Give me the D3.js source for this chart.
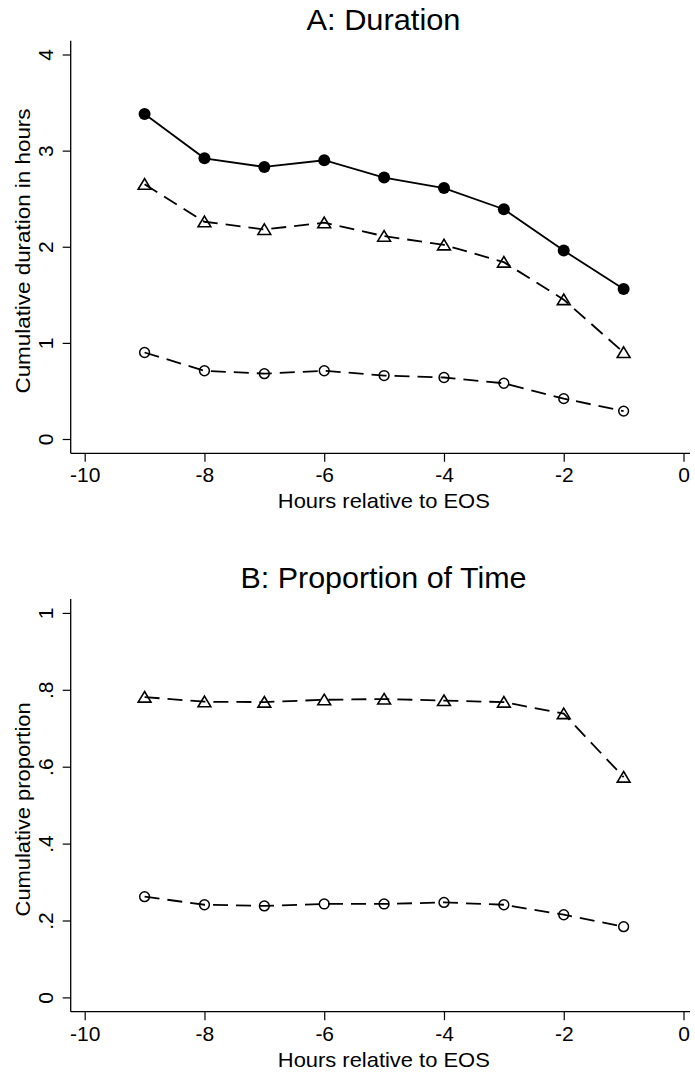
<!DOCTYPE html>
<html>
<head>
<meta charset="utf-8">
<script src="https://cdn.jsdelivr.net/npm/d3@7"></script>
<style>
  html, body { margin: 0; padding: 0; background: #fff; }
  svg { display: block; }
  text { font-family: "Liberation Sans", Arial, Helvetica, sans-serif; fill: #000; }
</style>
</head>
<body>
<svg id="chart" width="695" height="1074"></svg>
<script>
// ---------- data ----------
const hours = [-9, -8, -7, -6, -5, -4, -3, -2, -1];

const durationFilled   = [3.38, 2.92, 2.83, 2.90, 2.72, 2.61, 2.39, 1.96, 1.56];
const durationTriangle = [2.65, 2.26, 2.18, 2.25, 2.11, 2.02, 1.84, 1.45, 0.90];
const durationCircle   = [0.90, 0.71, 0.68, 0.71, 0.66, 0.64, 0.58, 0.42, 0.29];

const proportionTriangle = [0.781, 0.769, 0.768, 0.774, 0.776, 0.772, 0.768, 0.738, 0.573];
const proportionCircle   = [0.262, 0.241, 0.238, 0.243, 0.243, 0.247, 0.241, 0.215, 0.184];

const xTicks = [-10, -8, -6, -4, -2, 0];
const xTickLabels = ["-10", "-8", "-6", "-4", "-2", "0"];
const yTicksA = [0, 1, 2, 3, 4];
const yTickLabelsA = ["0", "1", "2", "3", "4"];
const yTicksB = [0, 0.2, 0.4, 0.6, 0.8, 1];
const yTickLabelsB = ["0", ".2", ".4", ".6", ".8", "1"];

const titles = ["A: Duration", "B: Proportion of Time"];
const yTitles = ["Cumulative duration in hours", "Cumulative proportion"];
const xTitle = "Hours relative to EOS";

// ---------- layout ----------
const svg = d3.select("#chart");
const axisX0 = 70.7, axisX1 = 690, axisYTop = 40.7, axisYBottom = 453.3;
const x = d3.scaleLinear().domain([-10, 0]).range([84.7, 683.5]);
const dashPattern = "15,8";

const panels = [
  { offset: 0, title: titles[0], yTitle: yTitles[0], yTitleLen: 285,
    y: d3.scaleLinear().domain([0, 4]).range([439, 54.5]),
    ticks: yTicksA, tickLabels: yTickLabelsA,
    series: [
      { values: durationFilled, dash: null, marker: "filled" },
      { values: durationTriangle, dash: dashPattern, marker: "triangle" },
      { values: durationCircle, dash: dashPattern, marker: "circle" }
    ] },
  { offset: 558.4, title: titles[1], yTitle: yTitles[1], yTitleLen: 214,
    y: d3.scaleLinear().domain([0, 1]).range([439, 54.5]),
    ticks: yTicksB, tickLabels: yTickLabelsB,
    series: [
      { values: proportionTriangle, dash: dashPattern, marker: "triangle" },
      { values: proportionCircle, dash: dashPattern, marker: "circle" }
    ] }
];

panels.forEach(p => {
  const g = svg.append("g").attr("transform", `translate(0,${p.offset})`);
  const y = p.y;

  // title
  g.append("text").attr("x", 383.5).attr("y", 30)
    .attr("text-anchor", "middle").attr("font-size", 30)
    .attr("textLength", p.offset === 0 ? 154 : 286).attr("lengthAdjust", "spacingAndGlyphs")
    .text(p.title);

  // y axis
  const yAxis = d3.axisLeft(y).tickValues(p.ticks)
    .tickFormat((d, i) => p.tickLabels[i]).tickSize(8).tickSizeOuter(0);
  const ya = g.append("g").attr("transform", `translate(${axisX0},0)`).call(yAxis);
  ya.select(".domain").remove();
  ya.selectAll(".tick line").attr("stroke", "#000").attr("stroke-width", 1.2);
  ya.selectAll(".tick text")
    .attr("x", null).attr("dy", null)
    .attr("transform", "translate(-17.4,0) rotate(-90)")
    .attr("text-anchor", "middle")
    .attr("font-size", 21).attr("font-family", null);
  g.append("line").attr("x1", axisX0).attr("x2", axisX0)
    .attr("y1", axisYTop).attr("y2", axisYBottom)
    .attr("stroke", "#000").attr("stroke-width", 1.3);

  // x axis
  const xAxis = d3.axisBottom(x).tickValues(xTicks)
    .tickFormat((d, i) => xTickLabels[i]).tickSize(8.5).tickSizeOuter(0);
  const xa = g.append("g").attr("transform", `translate(0,${axisYBottom})`).call(xAxis);
  xa.select(".domain").remove();
  xa.selectAll(".tick line").attr("stroke", "#000").attr("stroke-width", 1.2);
  xa.selectAll(".tick text")
    .attr("y", 29).attr("dy", null)
    .attr("font-size", 21).attr("font-family", null);
  g.append("line").attr("x1", axisX0).attr("x2", axisX1)
    .attr("y1", axisYBottom).attr("y2", axisYBottom)
    .attr("stroke", "#000").attr("stroke-width", 1.3);

  // axis titles
  g.append("text").attr("x", 383.8).attr("y", 508.3)
    .attr("text-anchor", "middle").attr("font-size", 21)
    .attr("textLength", 212).attr("lengthAdjust", "spacingAndGlyphs")
    .text(xTitle);
  g.append("text")
    .attr("transform", `translate(30,251) rotate(-90)`)
    .attr("text-anchor", "middle").attr("font-size", 21)
    .attr("textLength", p.yTitleLen).attr("lengthAdjust", "spacingAndGlyphs")
    .text(p.yTitle);

  // series
  p.series.forEach(s => {
    const pts = hours.map((h, i) => [h, s.values[i]]);
    const line = d3.line().x(d => x(d[0])).y(d => y(d[1]));
    g.append("path").datum(pts).attr("d", line)
      .attr("fill", "none").attr("stroke", "#000").attr("stroke-width", 1.8)
      .attr("stroke-dasharray", s.dash);
    if (s.marker === "filled") {
      g.selectAll(null).data(pts).enter().append("circle")
        .attr("cx", d => x(d[0])).attr("cy", d => y(d[1])).attr("r", 6)
        .attr("fill", "#000");
    } else if (s.marker === "circle") {
      g.selectAll(null).data(pts).enter().append("circle")
        .attr("cx", d => x(d[0])).attr("cy", d => y(d[1])).attr("r", 4.9)
        .attr("fill", "none").attr("stroke", "#000").attr("stroke-width", 1.5);
    } else {
      const tri = "M0,-5.6L6.4,5L-6.4,5Z";
      g.selectAll(null).data(pts).enter().append("path")
        .attr("d", tri)
        .attr("transform", d => `translate(${x(d[0])},${y(d[1])})`)
        .attr("fill", "none").attr("stroke", "#000").attr("stroke-width", 1.6)
        .attr("stroke-linejoin", "miter");
    }
  });
});
</script>
</body>
</html>
